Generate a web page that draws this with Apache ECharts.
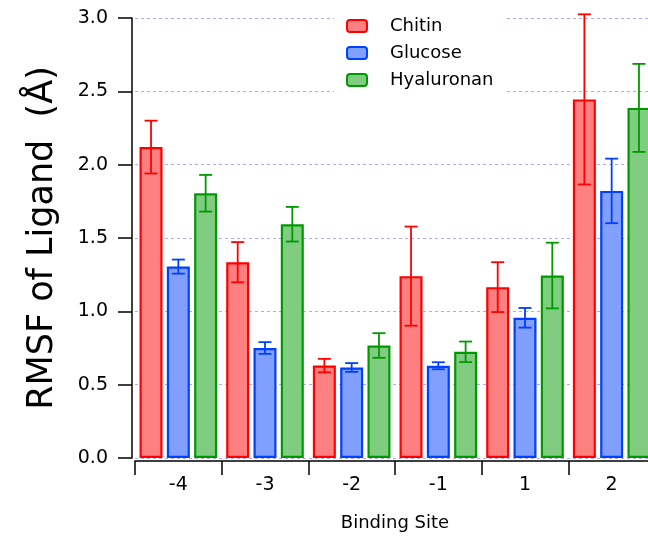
<!DOCTYPE html>
<html>
<head>
<meta charset="utf-8">
<script src="https://cdn.jsdelivr.net/npm/echarts@6/dist/echarts.min.js"></script>
<style>
  html, body { margin: 0; padding: 0; background: #fff; }
  #chart { width: 648px; height: 536px; }
</style>
</head>
<body>
<div id="chart"></div>
<script>
var sites = ['-4', '-3', '-2', '-1', '1', '2']
var chitin = [2.12, 1.335, 0.63, 1.24, 1.165, 2.445]
var chitinErr = [0.18, 0.137, 0.046, 0.338, 0.17, 0.58]
var glucose = [1.305, 0.75, 0.617, 0.629, 0.956, 1.821]
var glucoseErr = [0.048, 0.04, 0.03, 0.024, 0.067, 0.22]
var hyaluronan = [1.805, 1.594, 0.767, 0.724, 1.244, 2.387]
var hyaluronanErr = [0.125, 0.118, 0.084, 0.07, 0.224, 0.3]

var font = 'DejaVu Sans'
var barW = 23
var pitch = 27.3

function barSeries(name, data, fill, stroke) {
  return {
    name: name,
    type: 'bar',
    data: data,
    barWidth: barW,
    barGap: '18.7%',
    itemStyle: { color: fill, borderColor: stroke, borderWidth: 2.2 },
    emphasis: { disabled: true },
    z: 2
  }
}

function errSeries(k, vals, errs, stroke) {
  var d = vals.map(function (v, i) { return [i, v - errs[i], v + errs[i]] })
  return {
    name: 'err' + k,
    type: 'custom',
    data: d,
    z: 3,
    silent: true,
    renderItem: function (params, api) {
      var lo = api.coord([api.value(0), api.value(1)])
      var hi = api.coord([api.value(0), api.value(2)])
      var x = lo[0] + (k - 1) * pitch
      var cap = 6.5
      var st = { stroke: stroke, lineWidth: 1.8 }
      return {
        type: 'group',
        children: [
          { type: 'line', shape: { x1: x, y1: lo[1], x2: x, y2: hi[1] }, style: st },
          { type: 'line', shape: { x1: x - cap, y1: lo[1], x2: x + cap, y2: lo[1] }, style: st },
          { type: 'line', shape: { x1: x - cap, y1: hi[1], x2: x + cap, y2: hi[1] }, style: st }
        ]
      }
    }
  }
}

var chart = echarts.init(document.getElementById('chart'))
var option = {
  backgroundColor: '#fff',
  animation: false,
  grid: { left: 135, width: 520, top: 18, height: 440, outerBoundsMode: 'none', containLabel: false },
  legend: {
    data: ['Chitin', 'Glucose', 'Hyaluronan'],
    orient: 'vertical',
    left: 334,
    top: 13,
    padding: [4, 12, 4, 12],
    backgroundColor: '#fff',
    itemWidth: 20,
    itemHeight: 12,
    itemGap: 9,
    textStyle: { fontFamily: font, fontSize: 18, color: '#000', padding: [0, 0, 0, 18] },
    selectedMode: false
  },
  xAxis: {
    type: 'category',
    data: sites,
    offset: 3,
    name: 'Binding Site',
    nameLocation: 'middle',
    nameGap: 53,
    nameTextStyle: { fontFamily: font, fontSize: 18, color: '#000' },
    axisLine: { onZero: false, lineStyle: { color: '#000', width: 1.5 } },
    axisTick: { show: true, length: 14, interval: 0, lineStyle: { color: '#000', width: 1.5 } },
    axisLabel: { fontFamily: font, fontSize: 19, color: '#000', margin: 15, interval: 0 },
    splitLine: { show: false }
  },
  yAxis: {
    type: 'value',
    min: 0,
    max: 3,
    interval: 0.5,
    offset: 3,
    name: 'RMSF of Ligand  (Å)',
    nameLocation: 'middle',
    nameGap: 72,
    nameTextStyle: { fontFamily: font, fontSize: 35, color: '#000' },
    axisLine: { show: true, lineStyle: { color: '#000', width: 1.5 } },
    axisTick: { show: true, inside: false, length: 14, lineStyle: { color: '#000', width: 1.5 } },
    axisLabel: {
      fontFamily: font, fontSize: 19, color: '#000', margin: 24,
      formatter: function (v) { return v.toFixed(1) }
    },
    splitLine: { show: true, lineStyle: { color: '#aaaaff', width: 1, type: [3, 3] } }
  },
  series: [
    barSeries('Chitin', chitin, '#ff8080', '#ff0000'),
    barSeries('Glucose', glucose, '#809fff', '#0040ff'),
    barSeries('Hyaluronan', hyaluronan, '#80cc80', '#009900'),
    errSeries(0, chitin, chitinErr, '#ff0000'),
    errSeries(1, glucose, glucoseErr, '#0040ff'),
    errSeries(2, hyaluronan, hyaluronanErr, '#009900')
  ]
}
chart.setOption(option)
</script>
</body>
</html>
